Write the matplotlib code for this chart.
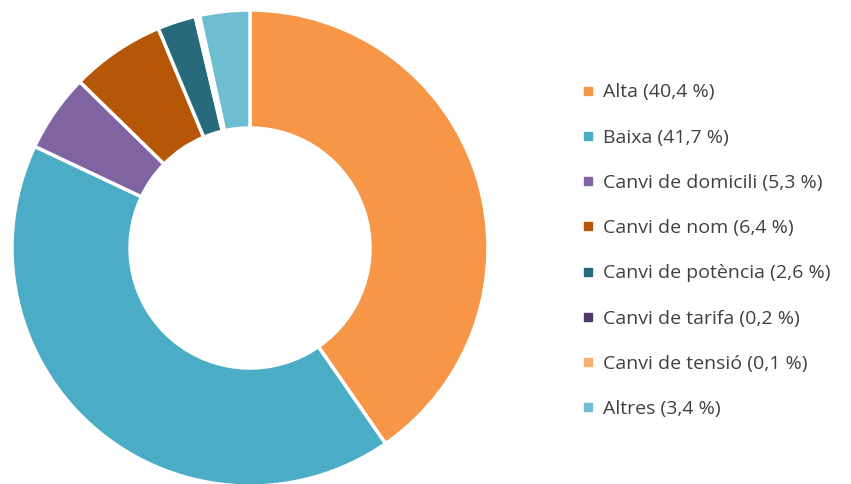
import matplotlib.pyplot as plt
from matplotlib.lines import Line2D

# data
labels = ['Alta', 'Baixa', 'Canvi de domicili', 'Canvi de nom', 'Canvi de potència',
          'Canvi de tarifa', 'Canvi de tensió', 'Altres']
values = [40.4, 41.7, 5.3, 6.4, 2.6, 0.2, 0.1, 3.4]
value_text = ['40,4', '41,7', '5,3', '6,4', '2,6', '0,2', '0,1', '3,4']
colors = ['#F79646', '#4BACC6', '#8064A2', '#B65708', '#276A7C', '#4F3A6B', '#F9B073', '#6FBDD1']

plt.rcParams['font.family'] = ['Open Sans', 'DejaVu Sans']

fig = plt.figure(figsize=(8.51, 4.84), dpi=100)
ax = fig.add_axes([10 / 851, -4 / 484, 480 / 851, 480 / 484])

ax.pie(values, colors=colors, startangle=90, counterclock=False,
       radius=238 / 240,
       wedgeprops=dict(width=118 / 240, edgecolor='white', linewidth=2.5))
ax.set_xlim(-1, 1)
ax.set_ylim(-1, 1)
ax.set_aspect('equal')
ax.axis('off')

handles = [Line2D([], [], marker='s', linestyle='none', markersize=6,
                  markerfacecolor=c, markeredgecolor=c) for c in colors]
legend_labels = [f'{l} ({v} %)' for l, v in zip(labels, value_text)]
fig.legend(handles, legend_labels, loc='upper left',
           bbox_to_anchor=(563 / 851, 1 - 66 / 484), frameon=False,
           fontsize=14, labelspacing=1.4, handlelength=0.8, handletextpad=0.35,
           labelcolor='#404040')

fig.savefig('out.png', dpi=100, facecolor='white')
